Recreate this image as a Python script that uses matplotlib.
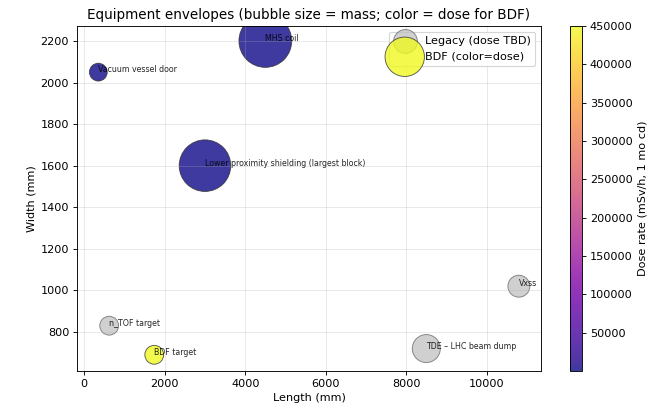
import matplotlib
matplotlib.use("Agg")
import matplotlib.pyplot as plt
import numpy as np

# legacy equipment (dose not yet known)
legacy_names = ["n_TOF target", "TDE – LHC beam dump", "Vxss"]
legacy_length = [620, 8500, 10800]
legacy_width = [830, 720, 1020]
legacy_mass = [2.8, 6.2, 3.8]

# BDF equipment (dose known)
bdf_names = ["BDF target", "Vacuum vessel door", "MHS coil", "Lower proximity shielding (largest block)"]
bdf_length = [1740, 350, 4500, 3000]
bdf_width = [690, 2050, 2200, 1600]
bdf_mass = [2.8, 2.5, 22.0, 21.0]
bdf_dose = [450000, 300, 150, 100]

size_scale = 100

fig = plt.figure(figsize=(662 / 81, 411 / 81), dpi=81)
ax = fig.add_axes([77 / 662, 1 - 371 / 411, 464 / 662, 345 / 411])
cax = fig.add_axes([570 / 662, 1 - 371 / 411, 12 / 662, 345 / 411])

ax.scatter(legacy_length, legacy_width, s=np.array(legacy_mass) * size_scale,
           color="#bdbdbd", alpha=0.7, edgecolors="#555555", linewidths=0.8,
           label="Legacy (dose TBD)")
sc = ax.scatter(bdf_length, bdf_width, s=np.array(bdf_mass) * size_scale,
                c=bdf_dose, cmap="plasma", alpha=0.8, edgecolors="#333333",
                linewidths=0.8, label="BDF (color=dose)")

for n, x, y in zip(legacy_names + bdf_names, legacy_length + bdf_length, legacy_width + bdf_width):
    ax.annotate(n, (x, y), fontsize=7, alpha=0.85)

ax.set_xlim(-180, 11350)
ax.set_ylim(612, 2272)
ax.set_xlabel("Length (mm)")
ax.set_ylabel("Width (mm)")
ax.set_title("Equipment envelopes (bubble size = mass; color = dose for BDF)")
ax.grid(True, alpha=0.3)
ax.legend(loc="upper right")

cb = fig.colorbar(sc, cax=cax)
cb.set_label("Dose rate (mSv/h, 1 mo cd)")

fig.savefig("out.png", dpi=81)
